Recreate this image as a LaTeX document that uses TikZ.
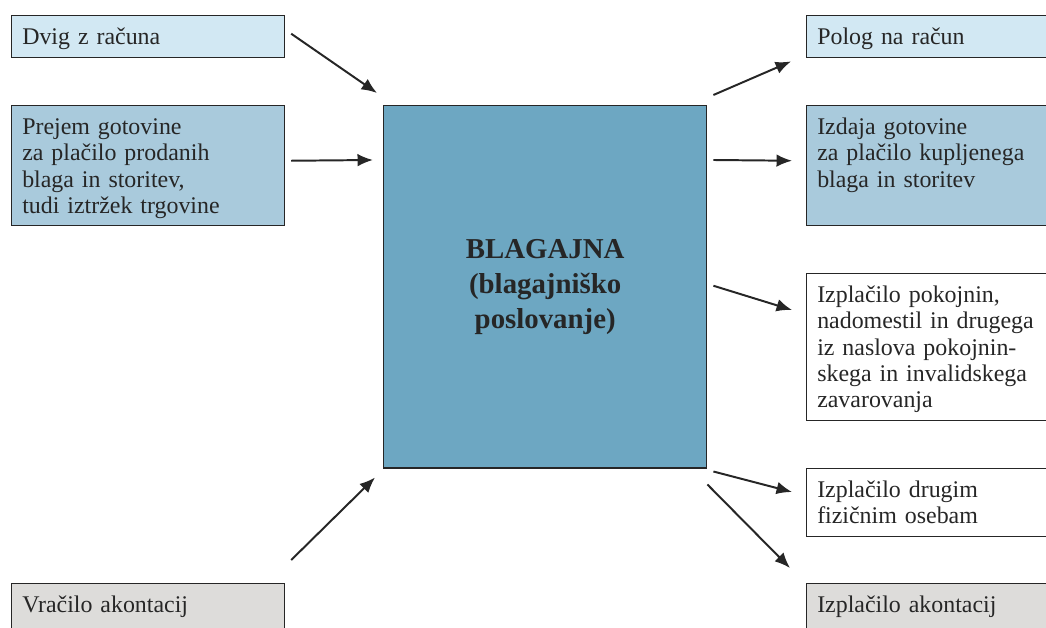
\documentclass[tikz,border=0pt]{standalone}
\usepackage{fontspec}
\setmainfont{Liberation Serif}
\usepackage{tikz}
\usetikzlibrary{arrows.meta}

\definecolor{lblue}{HTML}{D2E8F3}
\definecolor{mblue}{HTML}{A9CADC}
\definecolor{cblue}{HTML}{6DA7C2}
\definecolor{lgrey}{HTML}{DDDCDA}
\definecolor{ink}{HTML}{262626}

\begin{document}
\begin{tikzpicture}
  [
   x=0.025cm, y=-0.025cm,
   bx/.style={draw=black!85,line width=1pt,anchor=north west,align=left,
              inner xsep=7.5pt,inner ysep=8pt,text height=12.5pt,text=ink,
              font=\fontsize{17}{18.7}\selectfont},
   lw/.style={text width=179pt},
   rw/.style={text width=198pt},
   lb/.style={bx,fill=lblue},
   mb/.style={bx,fill=mblue},
   wb/.style={bx,fill=white},
   gb/.style={bx,fill=lgrey},
   arr/.style={-{Latex[length=11pt,width=9pt]},line width=1.4pt,color=black!85}
  ]
   \useasboundingbox (0,0) rectangle (1046,628);
   \clip (0,0) rectangle (1046,628);

   \node[lb,lw,text depth=1.4pt]  (dvig)    at (11,15)   {Dvig z računa};
   \node[mb,lw,text depth=56.9pt] (prejem)  at (11,105)  {Prejem gotovine\\za plačilo prodanih\\blaga in storitev,\\tudi iztržek trgovine};
   \node[gb,lw,text depth=28.4pt] (vracilo) at (11,583)  {Vračilo akontacij};

   \node[draw=black!85,line width=1pt,fill=cblue,anchor=north west,
         minimum width=229.7pt,minimum height=257.5pt,align=center,text=ink,
         font=\fontsize{20.5}{24.9}\selectfont\bfseries] (blag) at (383,105)
         {BLAGAJNA\\(blagajniško\\poslovanje)};

   \node[lb,rw,text depth=1.4pt]  (polog)   at (806,15)  {Polog na račun};
   \node[mb,rw,text depth=56.9pt] (izdaja)  at (806,105) {Izdaja gotovine\\za plačilo kupljenega\\blaga in storitev};
   \node[wb,rw,text depth=76.1pt] (pokoj)   at (806,273) {Izplačilo pokojnin,\\nadomestil in drugega\\iz naslova pokojnin-\\skega in invalidskega\\zavarovanja};
   \node[wb,rw,text depth=19.9pt] (drugim)  at (806,468) {Izplačilo drugim\\fizičnim osebam};
   \node[gb,rw,text depth=28.4pt] (akont)   at (806,583) {Izplačilo akontacij};

   \draw[arr] ([shift={(6,-3)}]dvig.east)            -- ([shift={(-6,-12)}]blag.north west);
   \draw[arr] ([shift={(6,-5)}]prejem.east)          -- ([shift={(-10,55)}]blag.north west);
   \draw[arr] ([shift={(6,-23)}]vracilo.north east)  -- ([shift={(-8,9)}]blag.south west);

   \draw[arr] ([shift={(6,-10)}]blag.north east)     -- ([shift={(-15,3)}]polog.south west);
   \draw[arr] ([shift={(6,55)}]blag.north east)      -- ([shift={(-14,-5)}]izdaja.west);
   \draw[arr] ([shift={(6,-1)}]blag.east)            -- ([shift={(-14,37)}]pokoj.north west);
   \draw[arr] ([shift={(6,3)}]blag.south east)       -- ([shift={(-14,24)}]drugim.north west);
   \draw[arr] ([shift={(0,16)}]blag.south east)      -- ([shift={(-16,-15)}]akont.north west);

\end{tikzpicture}
\end{document}
